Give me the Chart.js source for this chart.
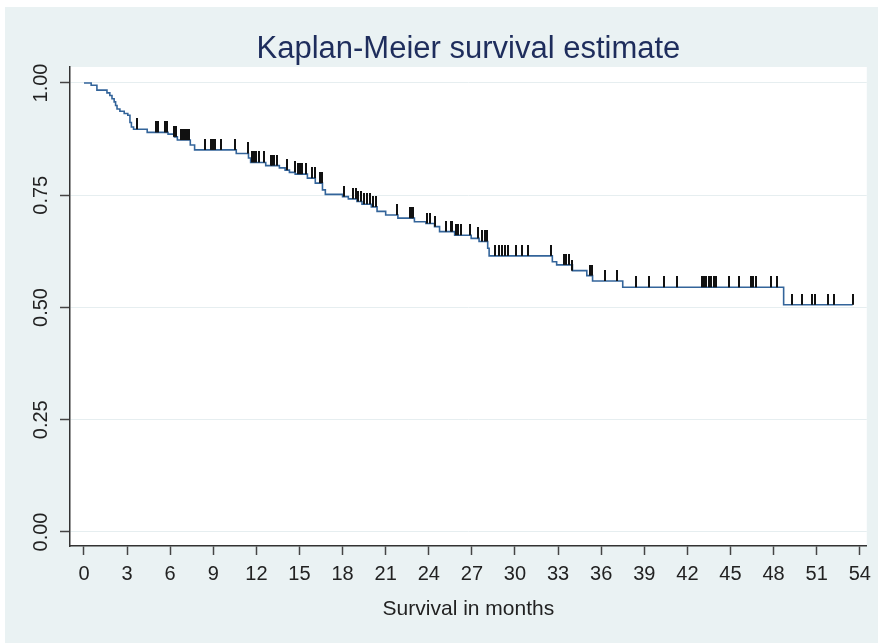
<!DOCTYPE html>
<html>
<head>
<meta charset="utf-8">
<script src="https://cdn.jsdelivr.net/npm/chart.js@4.4.1/dist/chart.umd.min.js"></script>
<style>
  html, body { margin: 0; padding: 0; background: #ffffff; }
  #wrap { width: 878px; height: 644px; }
</style>
</head>
<body>
<div id="wrap"><canvas id="c" width="878" height="644"></canvas></div>
<script>
// ---- Data ----
const eventTimes = [0, 0.5, 0.9, 1.6, 1.8, 1.95, 2.1, 2.2, 2.3, 2.5, 2.8, 3.05, 3.2, 3.3, 3.45,
  4.4, 5.85, 6.3, 6.5, 7.4, 7.7, 10.6, 11.45, 11.6, 12.65, 13.6, 14.0, 14.3, 14.7, 15.55,
  16.1, 16.6, 16.8, 18.0, 18.4, 19.0, 19.35, 20.0, 20.4, 21.0, 21.85, 23.0, 23.8, 24.4,
  24.75, 25.8, 26.95, 27.5, 28.1, 28.2, 32.6, 32.9, 34.0, 35.0, 35.4, 37.5, 48.7, 53.5];
const survival = [1.000, 0.995, 0.984, 0.978, 0.972, 0.965, 0.958, 0.950, 0.942, 0.937, 0.932, 0.928, 0.912, 0.902, 0.897,
  0.890, 0.886, 0.880, 0.873, 0.862, 0.851, 0.843, 0.833, 0.823, 0.816, 0.811, 0.806, 0.801, 0.797, 0.788,
  0.777, 0.762, 0.752, 0.747, 0.742, 0.736, 0.730, 0.724, 0.714, 0.706, 0.699, 0.691, 0.687, 0.680,
  0.669, 0.661, 0.654, 0.647, 0.632, 0.615, 0.602, 0.595, 0.582, 0.571, 0.559, 0.545, 0.506, 0.506];
const censorTimes = [3.7, 4.98, 5.14, 5.65, 5.79, 6.3, 6.4, 6.75, 6.9, 7.0, 7.15, 7.3,
  8.4, 8.85, 8.95, 9.1, 9.55, 10.5, 11.4, 11.7, 11.85, 11.95, 12.15, 12.5, 13.0, 13.1, 13.25, 13.45,
  14.15, 14.66, 14.9, 15.05, 15.2, 15.45, 15.9, 16.05, 16.4, 16.55, 18.1, 18.7, 18.95, 19.05, 19.3,
  19.5, 19.7, 19.9, 20.1, 20.3, 21.8, 22.7, 22.8, 22.9, 23.9, 24.1, 24.4, 25.2, 25.55, 25.65,
  25.9, 26.05, 26.25, 26.9, 27.45, 27.7, 27.9, 28.05, 28.6, 28.9, 29.1, 29.3, 29.5, 30.1, 30.5, 30.9,
  32.5, 33.4, 33.55, 33.75, 34.0, 35.2, 35.35, 36.3, 37.1, 38.4, 39.3, 40.4, 41.25,
  43.0, 43.15, 43.3, 43.5, 43.65, 43.85, 44.0, 44.9, 45.6, 46.4, 46.6, 46.75, 47.8, 48.25,
  49.3, 50.0, 50.7, 50.9, 51.8, 52.2, 53.5];
const xTickValues = [0, 3, 6, 9, 12, 15, 18, 21, 24, 27, 30, 33, 36, 39, 42, 45, 48, 51, 54];
const xTickLabels = ['0', '3', '6', '9', '12', '15', '18', '21', '24', '27', '30', '33', '36', '39', '42', '45', '48', '51', '54'];
const yTickValues = [0, 0.25, 0.5, 0.75, 1];
const yTickLabels = ['0.00', '0.25', '0.50', '0.75', '1.00'];
const titleText = 'Kaplan-Meier survival estimate';
const xTitleText = 'Survival in months';

// survival level at a censoring time = last step at or before it
function levelAt(t) {
  let s = survival[0];
  for (let i = 0; i < eventTimes.length; i++) { if (eventTimes[i] <= t) s = survival[i]; }
  return s;
}
const kmPoints = eventTimes.map((t, i) => ({ x: t, y: survival[i] }));
const censorPoints = censorTimes.map(t => ({ x: t, y: levelAt(t) }));

// censor mark glyph: vertical bar rising from the point
const mark = document.createElement('canvas');
mark.width = 2; mark.height = 22;
(function () { const g = mark.getContext('2d'); g.fillStyle = '#111111'; g.fillRect(0, 0, 2, 11); })();

const FONT = "'Liberation Sans', Arial, Helvetica, sans-serif";

const bgPlugin = {
  id: 'bg',
  beforeDraw(chart) {
    const ctx = chart.ctx, a = chart.chartArea;
    ctx.save();
    ctx.fillStyle = '#ffffff';
    ctx.fillRect(0, 0, chart.width, chart.height);
    ctx.fillStyle = '#eaf2f3';
    ctx.fillRect(5, 7, chart.width - 5, chart.height - 8);
    ctx.fillStyle = '#ffffff';
    ctx.fillRect(a.left, a.top, a.right - a.left, a.bottom - a.top);
    ctx.restore();
  },
  afterDraw(chart) {
    // title centred over the plot region
    const ctx = chart.ctx, a = chart.chartArea;
    ctx.save();
    ctx.fillStyle = '#1e2d5c';
    ctx.font = '31px ' + FONT;
    ctx.textAlign = 'center';
    ctx.textBaseline = 'middle';
    ctx.fillText(titleText, (a.left + a.right) / 2, 49);
    ctx.restore();
  }
};

new Chart(document.getElementById('c'), {
  type: 'scatter',
  data: {
    datasets: [
      {
        label: 'censored',
        data: censorPoints,
        showLine: false,
        pointStyle: mark,
        pointRadius: 6,
        pointHoverRadius: 6,
        order: 0
      },
      {
        label: 'KM',
        data: kmPoints,
        showLine: true,
        stepped: true,
        borderColor: '#33649a',
        borderWidth: 1.6,
        pointRadius: 0,
        pointHoverRadius: 0,
        fill: false,
        order: 1
      }
    ]
  },
  options: {
    responsive: false,
    animation: false,
    devicePixelRatio: 1,
    layout: { padding: { left: 0, right: 10, top: 67, bottom: 0 } },
    plugins: {
      legend: { display: false },
      tooltip: { enabled: false },
      title: { display: false }
    },
    scales: {
      x: {
        type: 'linear',
        min: -0.973,
        max: 54.486,
        afterBuildTicks(s) { s.ticks = xTickValues.map(v => ({ value: v })); },
        afterFit(s) { s.height = 98; },
        ticks: {
          autoSkip: false,
          maxRotation: 0,
          minRotation: 0,
          padding: 7,
          color: '#222222',
          font: { family: FONT, size: 20 },
          callback(v) { const i = xTickValues.indexOf(v); return i >= 0 ? xTickLabels[i] : ''; }
        },
        grid: { drawOnChartArea: false, tickLength: 9, tickColor: '#444444', tickWidth: 1.5 },
        border: { display: true, color: '#333333', width: 1.5 },
        title: {
          display: true,
          text: xTitleText,
          color: '#222222',
          font: { family: FONT, size: 21 },
          padding: { top: 0, bottom: 22 }
        }
      },
      y: {
        type: 'linear',
        min: -0.0312,
        max: 1.0356,
        afterBuildTicks(s) { s.ticks = yTickValues.map(v => ({ value: v })); },
        afterFit(s) { s.width = 70; },
        ticks: {
          autoSkip: false,
          minRotation: 90,
          maxRotation: 90,
          crossAlign: 'center',
          padding: -1,
          color: '#222222',
          font: { family: FONT, size: 20 },
          callback(v) { const i = yTickValues.indexOf(v); return i >= 0 ? yTickLabels[i] : ''; }
        },
        grid: { drawOnChartArea: true, color: '#e6eef0', lineWidth: 1, tickLength: 10, tickColor: '#444444', tickWidth: 1.5 },
        border: { display: true, color: '#333333', width: 1.5 }
      }
    }
  },
  plugins: [bgPlugin]
});
</script>
</body>
</html>
